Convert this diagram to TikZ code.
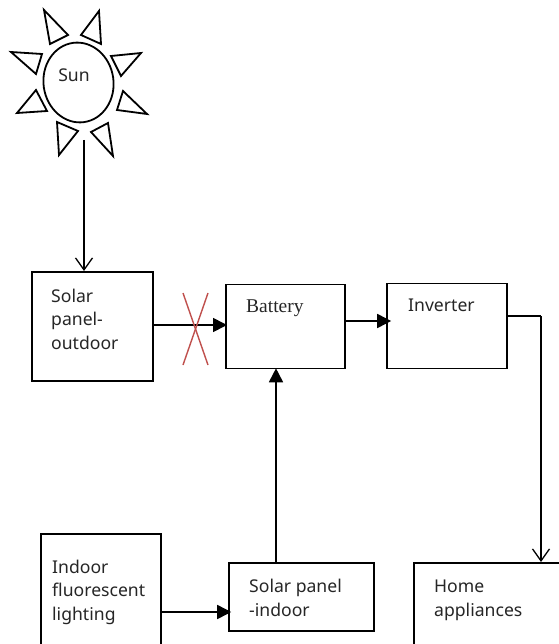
\documentclass[tikz,border=0pt]{standalone}
\usepackage{fontspec}
\setmainfont{Noto Sans}
\newfontfamily\serifbat{Liberation Serif}
\usetikzlibrary{arrows.meta,calc,shapes.geometric}
\definecolor{crossred}{HTML}{C0504D}
\tikzset{
  box/.style={draw=black,line width=1.8pt,rectangle,inner sep=0pt,anchor=north west,fill=none},
  lab/.style={anchor=base west,inner sep=0pt,align=left,font=\fontsize{17.6}{23.5}\selectfont,text=black!85},
  ray/.style={draw=black,line width=1.8pt,line join=miter},
  conn/.style={draw=black,line width=1.7pt},
  solidarrow/.style={conn,-{Triangle[length=14pt,width=14pt]}},
  openarrow/.style={conn,line width=1.3pt,-{Straight Barb[length=12pt,width=17pt,line width=1.3pt]}},
  crossline/.style={draw=crossred,line width=1.4pt}
}
\begin{document}
\begin{tikzpicture}[x=1pt,y=-1pt]
\useasboundingbox[fill=white] (0,0) rectangle (558,644);
% Sun
\node[draw=black,line width=1.8pt,ellipse,minimum width=70pt,minimum height=80pt,inner sep=0pt,rotate=8] (sun) at (78.5,82.5) {};
\node[lab,anchor=center] (suntext) at (74,75) {Sun};
\draw[ray] (44,10)--(68,35)--(50,44)--cycle;
\draw[ray] (99,11)--(81,35)--(101,44)--cycle;
\draw[ray] (141,53)--(111,56)--(121,76)--cycle;
\draw[ray] (147,114)--(117,110)--(123,91)--cycle;
\draw[ray] (108,123)--(91,132)--(113,156)--cycle;
\draw[ray] (57,122)--(78,131)--(59,155)--cycle;
\draw[ray] (17,113)--(47,111)--(36,90)--cycle;
\draw[ray] (11,52)--(42,54)--(36,74)--cycle;
% Boxes
\node[box,minimum width=121pt,minimum height=109pt] (outdoor) at (31,271) {};
\node[box,minimum width=119pt,minimum height=84pt] (battery) at (225,283.5) {};
\node[box,minimum width=120pt,minimum height=85pt] (inverter) at (386.2,282.6) {};
\node[box,minimum width=120pt,minimum height=130pt] (indoor) at (40.3,533) {};
\node[box,minimum width=145pt,minimum height=68pt] (panel) at (228.2,562) {};
\node[box,minimum width=170pt,minimum height=100pt] (home) at (413.3,562) {};
% Labels
\node[lab] (t1) at (51,349) {Solar\\panel-\\outdoor};
\node[lab,font=\serifbat\fontsize{19.5}{20}\selectfont] (t2) at (246,312) {Battery};
\node[lab] (t3) at (408,311) {Inverter};
\node[lab] (t4) at (52,620) {Indoor\\fluorescent\\lighting};
\node[lab] (t5) at (249,616) {Solar panel\\-indoor};
\node[lab] (t6) at (434,616) {Home\\appliances};
% Coordinates
\coordinate (sunfoot) at (84,140);
\coordinate (y1) at (0,325);
\coordinate (y2) at (0,321);
\coordinate (y3) at (0,612);
\coordinate (x1) at (276,0);
\coordinate (invout) at (507,316);
\coordinate (corner) at (541,316);
\coordinate (cx1a) at (183,293);
\coordinate (cx1b) at (208,365);
\coordinate (cx2a) at (208,293);
\coordinate (cx2b) at (183,365);
% Connectors
\draw[openarrow] (sunfoot) -- (sunfoot |- outdoor.north);
\draw[solidarrow] (outdoor.east |- y1) -- ([xshift=2pt]battery.west |- y1);
\draw[solidarrow] (battery.east |- y2) -- ([xshift=5pt]inverter.west |- y2);
\draw[solidarrow] (indoor.east |- y3) -- ([xshift=3pt]panel.west |- y3);
\draw[solidarrow] (x1 |- panel.north) -- ([yshift=1pt]x1 |- battery.south);
\draw[conn,line width=1.4pt] (invout) -- (corner);
\draw[openarrow] (corner) -- (corner |- home.north);
\draw[crossline] (cx1a) -- (cx1b);
\draw[crossline] (cx2a) -- (cx2b);
\end{tikzpicture}
\end{document}
